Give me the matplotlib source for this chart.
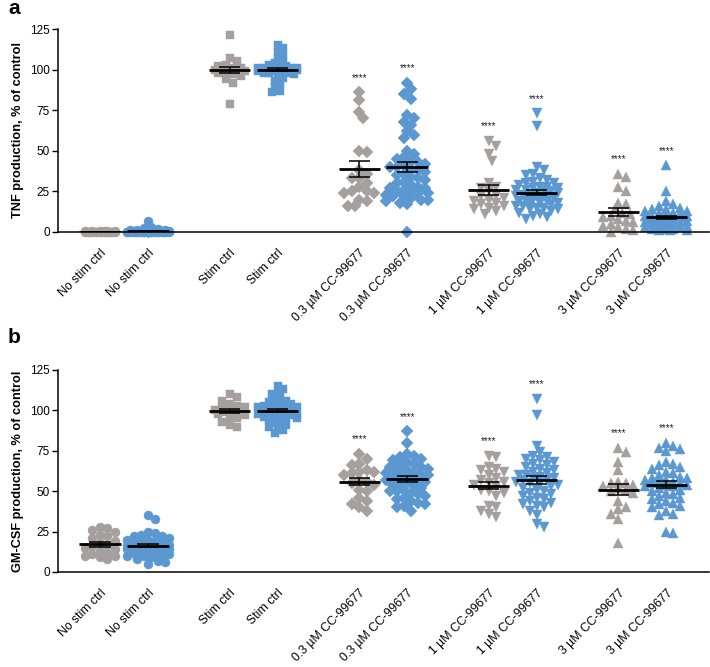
import numpy as np
import matplotlib
matplotlib.use("Agg")
import matplotlib.pyplot as plt

plt.rcParams['font.family'] = ['Liberation Sans', 'DejaVu Sans']

# ---------------- data ----------------
labels = ["No stim ctrl", "No stim ctrl", "Stim ctrl", "Stim ctrl",
          "0.3 µM CC-99677", "0.3 µM CC-99677", "1 µM CC-99677", "1 µM CC-99677",
          "3 µM CC-99677", "3 µM CC-99677"]
markers = ["o", "o", "s", "s", "D", "D", "v", "v", "^", "^"]
stars = [False, False, False, False, True, True, True, True, True, True]

# Panel a: TNF production, % of control
tnf_nostim_g = [0.9, 0.7, 0.6, 0.5, 0.4, 0.4, 0.3, 0.3, 0.2, 0.2, 0.1, 0.1, 0, 0, 0, 0, 0, 0, 0, 0]
tnf_nostim_b = [7, 3, 2.5, 2, 1.5, 1.2, 1, 1, 0.8, 0.6, 0.5, 0.5, 0.4, 0.3, 0.3, 0.2, 0.2, 0.1,
                0.1, 0, 0, 0, 0, 0, 0, 0, 0, 0, 0, 0, 0, 0, 0, 0, 0, 0, 0, 0]
tnf_stim_g = [121, 107, 105, 103, 102, 101, 101, 100, 100, 100, 100, 99, 99, 98, 97, 96, 94, 92, 79]
tnf_stim_b = [115, 113, 111, 109, 107, 105, 104, 103, 102, 102, 101, 101, 101, 101, 100, 100,
              100, 100, 100, 100, 100, 100, 100, 100, 100, 100, 100, 100, 99, 99, 99, 99, 99,
              98, 98, 98, 97, 96, 95, 93, 91, 89, 87, 86]
tnf_03_g = [86, 81, 74, 70, 50, 49.5, 38, 36, 33, 33, 30, 28, 25, 25, 24, 24, 20, 19, 16, 16]
tnf_03_b = [92, 88, 85, 82, 72, 70, 68, 66, 62, 60, 58, 50, 48, 46, 45, 44, 43, 42, 41, 40, 40,
            39, 38, 37, 36, 35, 34, 33, 32, 31, 30, 29, 28, 27, 27, 26, 25, 25, 24, 24, 23, 22,
            22, 21, 20, 20, 19, 18, 17, 0]
tnf_1_g = [56, 53, 48, 44, 30, 28, 27, 25, 23, 22, 21, 20, 19, 18, 17, 16, 15, 14, 13, 11]
tnf_1_b = [73, 65, 40, 38, 36, 35, 33, 32, 31, 30, 30, 29, 28, 28, 27, 27, 26, 26, 25, 25, 24,
           24, 23, 23, 22, 22, 21, 21, 20, 20, 19, 19, 18, 18, 17, 17, 16, 16, 15, 15, 14, 14,
           13, 12, 11, 10, 9, 8]
tnf_3_g = [36, 34, 28, 25, 18, 17, 14, 12, 11, 10, 9, 8, 7, 6, 5, 4, 3, 2, 1, 0]
tnf_3_b = [41, 25, 19, 17, 16, 15, 14, 14, 13, 13, 12, 12, 11, 11, 10, 10, 10, 9, 9, 9, 8, 8, 8,
           7, 7, 7, 6, 6, 6, 5, 5, 5, 4, 4, 4, 3, 3, 3, 2, 2, 2, 1, 1, 1]

# Panel b: GM-CSF production, % of control
gm_nostim_g = [28, 27, 26, 25, 23, 22, 21, 19, 18, 17, 16, 15, 14, 13, 12, 11, 10, 10, 9, 8]
gm_nostim_b = [35, 33, 25, 24, 23, 22, 22, 21, 20, 20, 19, 19, 18, 18, 17, 17, 17, 16, 16, 16,
               15, 15, 15, 14, 14, 14, 13, 13, 12, 12, 11, 11, 10, 10, 9, 8, 7, 6, 5]
gm_stim_g = [110, 108, 106, 104, 103, 102, 101, 100, 100, 100, 100, 99, 99, 98, 97, 96, 95, 93, 91, 90]
gm_stim_b = [115, 113, 111, 110, 108, 107, 106, 105, 104, 104, 103, 103, 102, 102, 102, 101, 101,
             101, 100, 100, 100, 100, 100, 100, 100, 100, 99, 99, 99, 98, 98, 98, 97, 97, 96, 96,
             95, 95, 94, 93, 92, 91, 90, 89, 88, 86]
gm_03_g = [73, 70, 67, 66, 63, 62, 62, 61, 60, 57, 56, 55, 54, 51, 50, 46, 44, 42, 40, 38]
gm_03_b = [87, 80, 73, 72, 71, 70, 69, 68, 67, 66, 65, 65, 64, 63, 62, 62, 61, 60, 60, 59, 58, 58,
           57, 57, 56, 55, 55, 54, 53, 52, 51, 50, 50, 49, 48, 47, 46, 45, 44, 43, 42, 41, 40, 38]
gm_1_g = [72, 71, 65, 64, 63, 62, 60, 58, 57, 56, 55, 54, 53, 51, 50, 49, 47, 41, 40, 38, 36, 34]
gm_1_b = [107, 97, 78, 74, 72, 71, 70, 69, 68, 67, 66, 65, 64, 63, 62, 61, 60, 60, 59, 58, 58, 57,
          57, 56, 55, 55, 54, 53, 52, 51, 50, 49, 48, 47, 46, 45, 44, 43, 42, 41, 40, 38, 35, 30, 28]
gm_3_g = [77, 74, 68, 63, 56, 55, 55, 54, 53, 52, 51, 50, 49, 44, 40, 39, 36, 33, 18]
gm_3_b = [80, 78, 77, 76, 75, 68, 67, 66, 65, 64, 62, 61, 60, 59, 58, 58, 57, 57, 56, 56, 55, 55,
          54, 54, 53, 53, 52, 51, 50, 49, 48, 47, 46, 45, 44, 43, 42, 41, 40, 38, 36, 35, 25, 24]

yticks = [0, 25, 50, 75, 100, 125]
ylabel_a = "TNF production, % of control"
ylabel_b = "GM-CSF production, % of control"

tnf_groups = [tnf_nostim_g, tnf_nostim_b, tnf_stim_g, tnf_stim_b, tnf_03_g, tnf_03_b,
              tnf_1_g, tnf_1_b, tnf_3_g, tnf_3_b]
gm_groups = [gm_nostim_g, gm_nostim_b, gm_stim_g, gm_stim_b, gm_03_g, gm_03_b,
             gm_1_g, gm_1_b, gm_3_g, gm_3_b]

# ---------------- style ----------------
GRAY = "#a59f9f"
BLUE = "#5b98d2"
colors = [GRAY, BLUE] * 5
positions = [k * 2.7 + j for k in range(5) for j in range(2)]
swarm_diam = [7.5, 7.0, 7.5, 5.5, 7.5, 7.0, 7.5, 7.0, 7.5, 7.0]
swarm_half = [16, 21, 16, 21, 16, 21, 16, 21, 16, 21]
XLIM = (-0.875, 12.69)
FIG_W, FIG_H = 710, 667


def swarm(values, xscale, yscale, diam, maxhalf):
    """Greedy beeswarm layout in pixel space; returns x offsets in data units."""
    vals = np.asarray(values, float)
    order = np.argsort(-vals)
    placed = []
    offs = np.zeros(len(vals))
    step = diam * 0.5
    nmax = int(maxhalf // step)
    cands = [0.0]
    for i in range(1, nmax + 1):
        cands += [i * step, -i * step]
    for idx in order:
        ypx = vals[idx] * yscale
        best, bestd = None, -1
        for c in cands:
            mind = 1e9
            for (px, py) in placed:
                dy = py - ypx
                if abs(dy) < diam:
                    d = np.hypot(px - c, dy)
                    mind = min(mind, d)
            if mind >= diam:
                best = c
                break
            if mind > bestd + 1e-9:
                bestd, best = mind, c
        placed.append((best, ypx))
        offs[idx] = best / xscale
    return offs


fig = plt.figure(figsize=(FIG_W / 100, FIG_H / 100), dpi=100)


def panel(rect, groups, ylabel, letter, letter_y):
    ax = fig.add_axes(rect)
    ax.set_xlim(*XLIM)
    ax.set_ylim(0, 125)
    ax_w_px = rect[2] * FIG_W
    ax_h_px = rect[3] * FIG_H
    xscale = ax_w_px / (XLIM[1] - XLIM[0])
    yscale = ax_h_px / 125.0
    for i, vals in enumerate(groups):
        x0 = positions[i]
        offs = swarm(vals, xscale, yscale, swarm_diam[i], swarm_half[i])
        ms = {"o": 6.5, "s": 6.0, "D": 6.0, "v": 7.4, "^": 7.4}[markers[i]]
        ax.plot(x0 + offs, vals, linestyle="none", marker=markers[i], ms=ms,
                color=colors[i], mec=colors[i], mew=0.3, clip_on=False, zorder=2)
        m = np.mean(vals)
        sem = np.std(vals, ddof=1) / np.sqrt(len(vals))
        ax.hlines(m, x0 - 0.43, x0 + 0.43, color="black", lw=2.0, zorder=4)
        ax.vlines(x0, m - sem, m + sem, color="black", lw=1.1, zorder=4)
        ax.hlines([m - sem, m + sem], x0 - 0.22, x0 + 0.22, color="black", lw=1.1, zorder=4)
        if stars[i]:
            ax.text(x0, max(vals) + 6, "****", ha="center", va="bottom", fontsize=7,
                    color="#222222")
    for s in ["top", "right"]:
        ax.spines[s].set_visible(False)
    ax.spines["left"].set_linewidth(1.1)
    ax.spines["bottom"].set_linewidth(1.1)
    ax.set_yticks(yticks)
    ax.set_yticklabels([str(t) for t in yticks], fontsize=8.5)
    ax.tick_params(axis="y", length=4, width=1.0, pad=2)
    ax.set_xticks(positions)
    ax.set_xticklabels(labels, rotation=45, ha="right", rotation_mode="anchor",
                       fontsize=8.8)
    ax.tick_params(axis="x", length=0, pad=11)
    ax.set_ylabel(ylabel, fontsize=9.2, fontweight="bold", labelpad=4)
    fig.text(8 / FIG_W, 1 - letter_y / FIG_H, letter, fontsize=15, fontweight="bold",
             ha="left", va="center")
    return ax


panel([58 / FIG_W, 1 - 232 / FIG_H, 651 / FIG_W, 203 / FIG_H], tnf_groups, ylabel_a, "a", 9)
panel([58 / FIG_W, 1 - 572 / FIG_H, 651 / FIG_W, 202 / FIG_H], gm_groups, ylabel_b, "b", 337)

fig.savefig("out.png", dpi=100)
